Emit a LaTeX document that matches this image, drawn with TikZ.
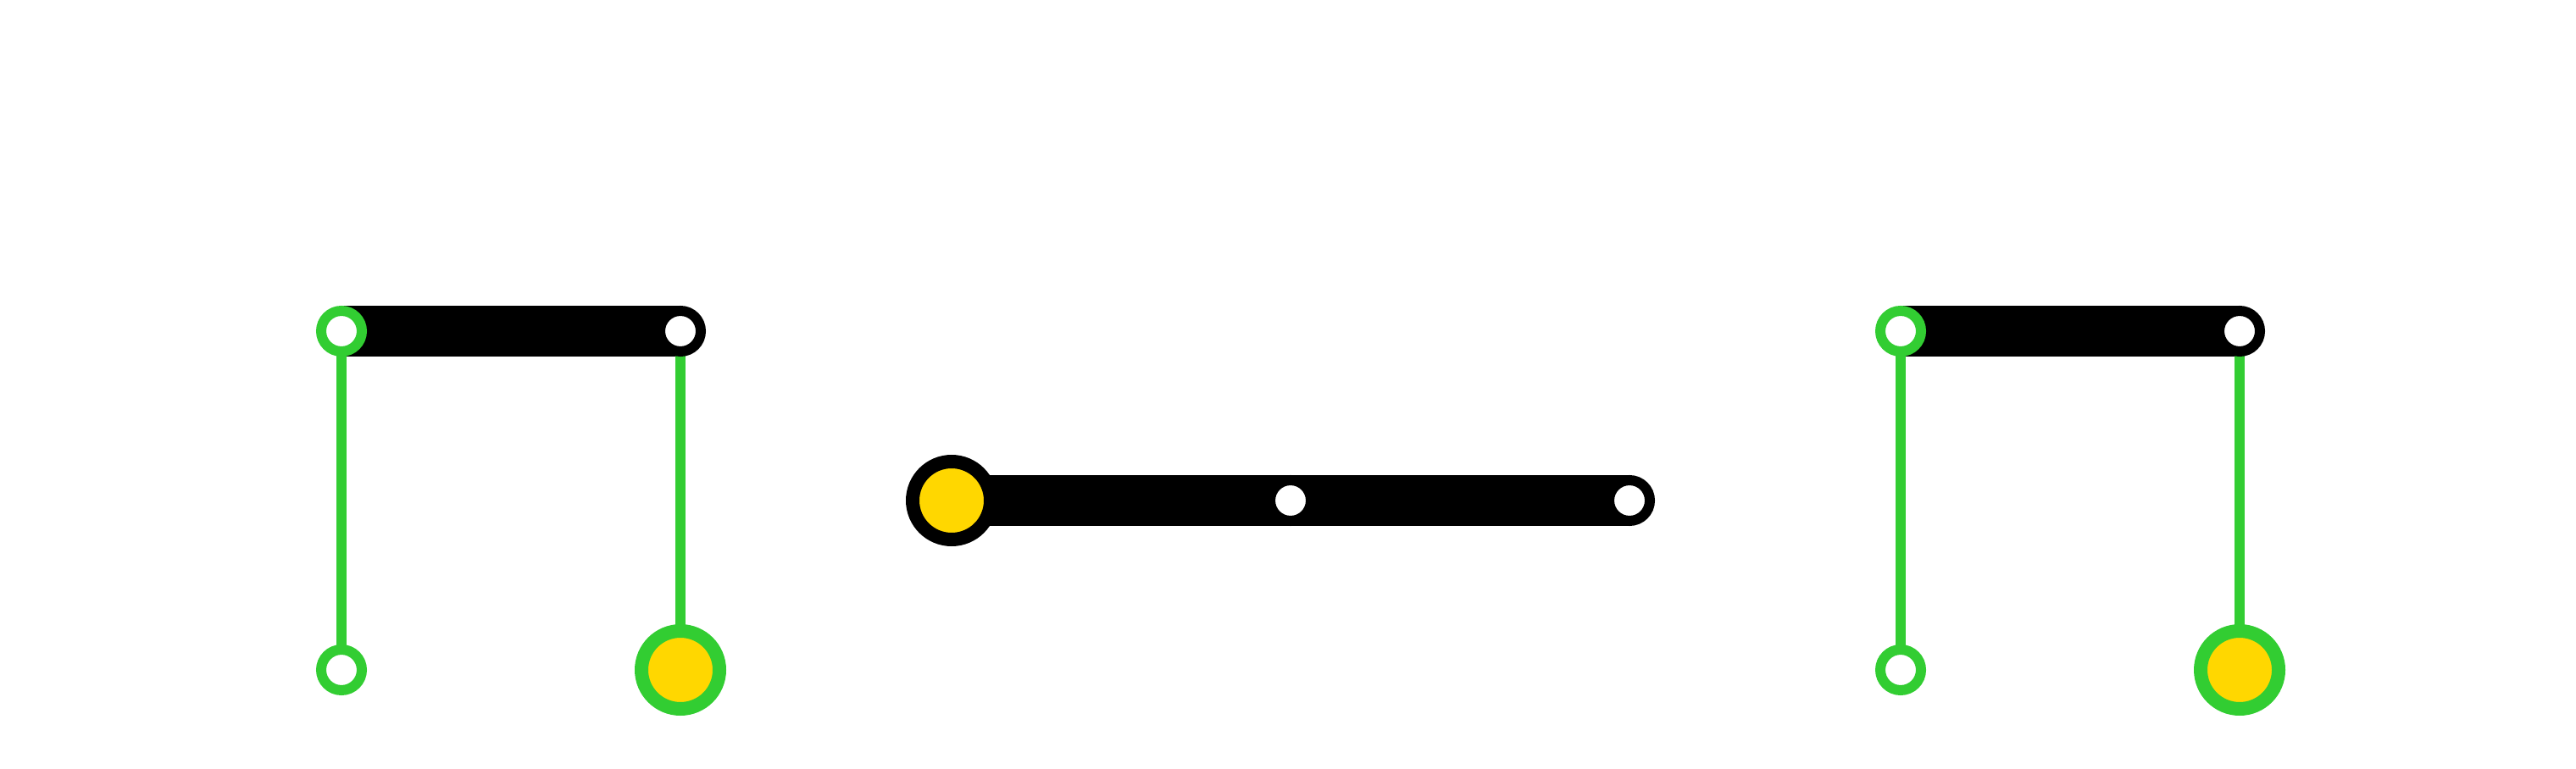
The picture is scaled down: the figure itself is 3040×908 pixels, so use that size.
\documentclass[tikz,border=0pt]{standalone}
\usetikzlibrary{backgrounds}
\definecolor{lgreen}{HTML}{32CD32}
\definecolor{lgold}{HTML}{FFD700}
\tikzset{
  smallring/.style={circle,inner sep=0pt,minimum size=24pt,line width=6pt,fill=white},
  bigring/.style={circle,inner sep=0pt,minimum size=46pt,line width=8pt,fill=lgold},
  barline/.style={line width=30pt,black,line cap=butt},
  greenline/.style={line width=6pt,lgreen,line cap=butt}
}
\begin{document}
\begin{tikzpicture}[x=0.5pt,y=-0.5pt]
\useasboundingbox (0,0) rectangle (3040,908);
% left structure
\node[smallring,draw=lgreen] (lt1) at (403,391) {};
\node[smallring,draw=black] (lt2) at (803,391) {};
\node[smallring,draw=lgreen] (lb1) at (403,791) {};
\node[bigring,draw=lgreen] (lb2) at (803,791) {};
% middle structure
\node[bigring,draw=black] (m1) at (1123,591) {};
\node[smallring,draw=black] (m2) at (1523,591) {};
\node[smallring,draw=black] (m3) at (1923,591) {};
% right structure
\node[smallring,draw=lgreen] (rt1) at (2243,391) {};
\node[smallring,draw=black] (rt2) at (2643,391) {};
\node[smallring,draw=lgreen] (rb1) at (2243,791) {};
\node[bigring,draw=lgreen] (rb2) at (2643,791) {};
\begin{pgfonlayer}{background}
\draw[barline] (lt1.center) -- (lt2.center);
\draw[greenline] (lt1.center) -- (lb1.center);
\draw[greenline] (lt2.center) -- (lb2.center);
\draw[barline] (m1.center) -- (m3.center);
\draw[barline] (rt1.center) -- (rt2.center);
\draw[greenline] (rt1.center) -- (rb1.center);
\draw[greenline] (rt2.center) -- (rb2.center);
\end{pgfonlayer}
\end{tikzpicture}
\end{document}
